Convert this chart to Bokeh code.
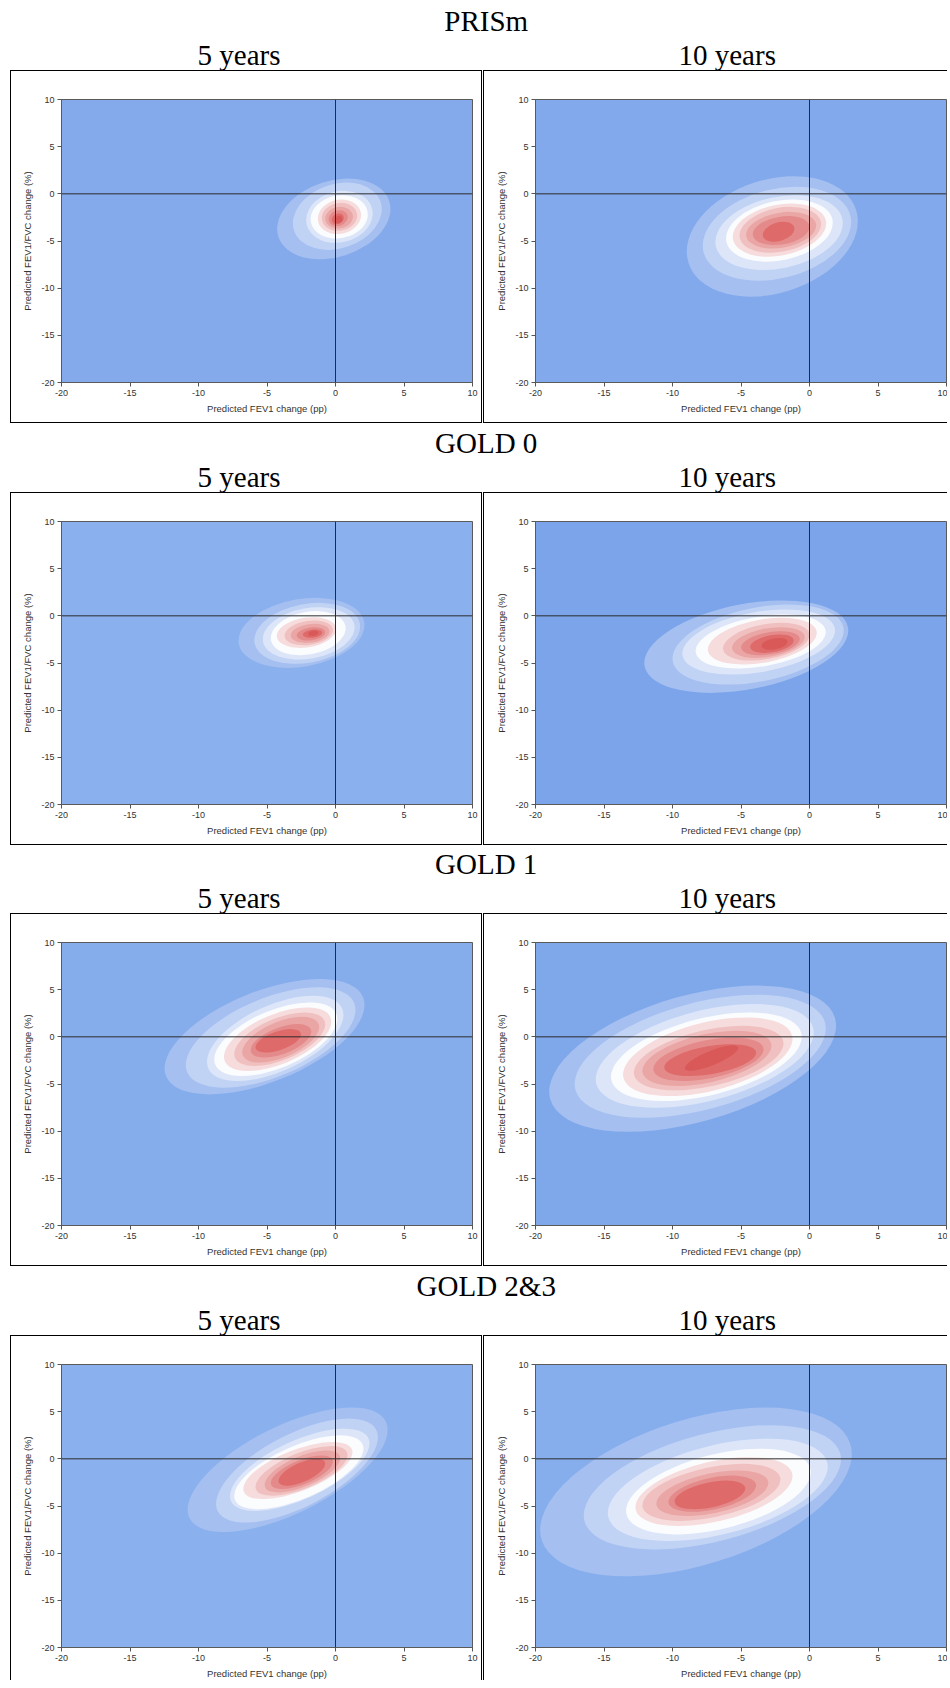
import math
from bokeh.plotting import figure
from bokeh.layouts import column, row
from bokeh.models import Range1d, FixedTicker, Span, Label, Spacer
from bokeh.embed import file_html
from bokeh.resources import INLINE

# ---------------- data ----------------
GROUPS = ["PRISm", "GOLD 0", "GOLD 1", "GOLD 2&3"]
HORIZONS = ["5 years", "10 years"]
X_TICKS = [-20, -15, -10, -5, 0, 5, 10]
Y_TICKS = [-20, -15, -10, -5, 0, 5, 10]
X_TICK_LABELS = ["-20", "-15", "-10", "-5", "0", "5", "10"]
Y_TICK_LABELS = ["-20", "-15", "-10", "-5", "0", "5", "10"]
X_LABEL = "Predicted FEV1 change (pp)"
Y_LABEL = "Predicted FEV1/FVC change (%)"

# density band colours, outermost -> innermost
LEVEL_COLORS = ["#A4BFF0", "#C1D3F5", "#DDE6F9", "#FBFCFE", "#F6DCDC",
                "#F0C0C0", "#EAA5A5", "#E48A8A", "#DE6A6A", "#D95858"]

# panel background (lowest density) colour, per group: [5 years, 10 years]
bg_prism = ["#85AAEB", "#82A9EC"]
bg_gold0 = ["#8AB0EE", "#7BA4EA"]
bg_gold1 = ["#85ACEB", "#7FA8EB"]
bg_gold23 = ["#8AB0EE", "#86ADEC"]

# contour bands, one row per level (outer -> inner):
# [x_min, x_max, y_min, y_max, x of the top-most point]
prism_5y = [
    [-4.26, 4.01, -6.95, 1.62, 0.90],
    [-3.11, 3.38, -5.95, 1.20, 0.80],
    [-2.14, 2.72, -5.19, 0.32, 0.60],
    [-1.82, 2.36, -4.73, -0.14, 0.50],
    [-1.29, 1.87, -4.27, -0.60, 0.45],
    [-1.00, 1.58, -3.92, -0.95, 0.40],
    [-0.75, 1.27, -3.67, -1.38, 0.35],
    [-0.51, 0.90, -3.42, -1.73, 0.30],
    [-0.27, 0.61, -3.21, -2.08, 0.25],
    [-0.05, 0.50, -3.10, -2.35, 0.25],
]
prism_10y = [
    [-8.96, 3.53, -10.90, 1.87, -1.15],
    [-7.79, 3.04, -9.21, 0.74, -1.02],
    [-6.87, 2.43, -8.08, -0.14, -1.06],
    [-6.09, 1.70, -7.20, -0.60, -1.22],
    [-5.60, 1.22, -6.67, -1.02, -1.34],
    [-5.11, 0.85, -6.25, -1.38, -1.39],
    [-4.63, 0.49, -5.79, -1.91, -1.43],
    [-4.14, 0.00, -5.43, -2.36, -1.55],
    [-3.41, -1.10, -5.08, -2.96, -1.91],
]
gold0_5y = [
    [-7.08, 2.12, -5.52, 1.91, -1.47],
    [-5.93, 1.80, -5.09, 1.38, -1.21],
    [-5.31, 1.40, -4.63, 0.92, -1.22],
    [-4.73, 0.75, -4.17, 0.50, -1.39],
    [-4.29, 0.05, -3.40, -0.14, -1.64],
    [-3.72, -0.18, -3.11, -0.50, -1.56],
    [-3.27, -0.44, -2.87, -0.85, -1.54],
    [-2.83, -0.75, -2.62, -1.20, -1.56],
    [-2.39, -0.97, -2.33, -1.45, -1.52],
    [-2.00, -1.25, -2.15, -1.55, -1.54],
]
gold0_10y = [
    [-12.06, 2.83, -8.17, 1.63, -2.01],
    [-10.00, 2.50, -7.29, 1.20, -1.56],
    [-9.28, 1.86, -6.23, 0.67, -1.76],
    [-8.31, 1.19, -5.59, 0.14, -1.90],
    [-7.42, 0.53, -5.16, -0.21, -2.05],
    [-6.32, 0.00, -4.74, -0.74, -2.05],
    [-5.66, -0.35, -4.46, -1.20, -2.08],
    [-4.99, -0.71, -4.17, -1.63, -2.10],
    [-4.33, -1.15, -3.93, -1.98, -2.18],
    [-3.50, -1.60, -3.60, -2.35, -2.22],
]
gold1_5y = [
    [-12.48, 2.12, -6.10, 6.13, -1.17],
    [-10.93, 1.46, -5.39, 5.25, -1.33],
    [-9.38, 0.58, -4.68, 4.36, -1.66],
    [-8.85, 0.13, -4.15, 3.65, -1.89],
    [-8.14, -0.31, -3.62, 3.12, -2.07],
    [-7.39, -0.75, -3.09, 2.59, -2.24],
    [-6.81, -1.19, -2.73, 2.13, -2.45],
    [-6.19, -1.77, -2.20, 1.35, -2.76],
    [-5.84, -2.52, -1.67, 0.82, -3.27],
]
gold1_10y = [
    [-19.00, 1.94, -10.07, 5.43, -3.82],
    [-17.14, 1.19, -8.58, 4.47, -3.85],
    [-15.60, 0.31, -7.52, 3.48, -4.07],
    [-14.49, -0.57, -6.81, 2.59, -4.40],
    [-13.61, -1.24, -6.28, 2.06, -4.64],
    [-12.82, -1.90, -5.67, 1.17, -4.90],
    [-12.20, -2.78, -5.21, 0.64, -5.37],
    [-11.40, -3.36, -4.68, -0.07, -5.57],
    [-10.60, -3.89, -4.15, -0.78, -5.73],
    [-9.10, -5.20, -3.60, -0.90, -5.60],
]
gold23_5y = [
    [-10.80, 3.81, -7.76, 5.44, 1.18],
    [-8.72, 3.10, -6.76, 4.27, 0.97],
    [-7.70, 2.48, -5.52, 3.20, 0.65],
    [-7.39, 2.04, -5.34, 2.49, 0.34],
    [-6.73, 1.24, -4.27, 1.78, -0.20],
    [-5.84, 0.88, -3.91, 1.35, -0.33],
    [-5.18, 0.35, -3.56, 0.89, -0.65],
    [-4.73, -0.18, -3.20, 0.36, -1.00],
    [-4.16, -0.75, -2.85, 0.00, -1.36],
]
gold23_10y = [
    [-19.66, 3.09, -12.46, 5.44, -3.17],
    [-16.48, 2.30, -9.61, 3.56, -2.87],
    [-14.72, 1.33, -8.72, 2.14, -3.08],
    [-13.39, 0.09, -8.01, 1.07, -3.62],
    [-12.70, -1.24, -7.12, 0.18, -4.39],
    [-12.20, -2.12, -6.58, -0.53, -4.89],
    [-11.18, -3.00, -6.05, -1.25, -5.25],
    [-10.30, -3.89, -5.62, -1.78, -5.65],
    [-9.85, -4.68, -5.34, -2.31, -6.10],
]

PANELS = [
    (prism_5y, prism_10y, bg_prism),
    (gold0_5y, gold0_10y, bg_gold0),
    (gold1_5y, gold1_10y, bg_gold1),
    (gold23_5y, gold23_10y, bg_gold23),
]

# ---------------- layout constants ----------------
FRAME_W = 411
FRAME_H = 283
X_RANGE = (-20, 10)
Y_RANGE = (-20, 10)
KX = FRAME_W / (X_RANGE[1] - X_RANGE[0])
KY = FRAME_H / (Y_RANGE[1] - Y_RANGE[0])

PAGE_W = 950
LEFT_PAD = 9
LEFT_W, RIGHT_W = 472, 464           # canvas widths (CSS borders added outside)
PANEL_H, LAST_PANEL_H = 353, 345     # canvas heights
HEAD_HEIGHTS = [70, 69, 68, 69]      # header band above each row of panels
TOP_BORDER = 28

SANS = "Liberation Sans"
SERIF = "Liberation Serif"
BORDER = "1px solid black"


def band_ellipses(levels):
    xs, ys, ws, hs, angs = [], [], [], [], []
    for xlo, xhi, ylo, yhi, xtop in levels:
        cx, cy = (xlo + xhi) / 2, (ylo + yhi) / 2
        W = (xhi - xlo) / 2 * KX
        H = (yhi - ylo) / 2 * KY
        rho = (xtop - cx) / ((xhi - xlo) / 2)
        rho = max(-0.95, min(0.95, rho))
        sxx, syy, sxy = W * W, H * H, rho * W * H
        m = (sxx + syy) / 2
        d = math.sqrt(((sxx - syy) / 2) ** 2 + sxy ** 2)
        a, b = math.sqrt(m + d), math.sqrt(max(m - d, 1e-6))
        theta = 0.5 * math.atan2(2 * sxy, sxx - syy)
        xs.append(cx); ys.append(cy)
        ws.append(2 * a / KX); hs.append(2 * b / KY); angs.append(theta)
    return xs, ys, ws, hs, angs


def header(group, height):
    h = figure(width=PAGE_W, height=height, title=None,
               x_range=Range1d(0, PAGE_W), y_range=Range1d(height, 0),
               x_axis_location=None, y_axis_location=None,
               toolbar_location=None, output_backend="svg", min_border=0)
    h.grid.visible = False
    h.outline_line_color = None
    h.background_fill_color = "white"
    title_mid = height - 49.5
    sub_mid = height - 15.7
    for x, y, t in ((485.7, title_mid, group),
                    (238.5, sub_mid, HORIZONS[0]),
                    (726.7, sub_mid, HORIZONS[1])):
        h.add_layout(Label(x=x, y=y, text=t, text_font=SERIF, text_font_size="29px",
                           text_align="center", text_baseline="middle",
                           text_color="black"))
    return h


def panel(levels, bg, width, height, border_left, styles):
    p = figure(width=width, height=height,
               x_range=Range1d(*X_RANGE), y_range=Range1d(*Y_RANGE),
               toolbar_location=None, output_backend="svg",
               min_border_left=border_left, min_border_right=width - border_left - FRAME_W,
               min_border_top=TOP_BORDER, min_border_bottom=height - TOP_BORDER - FRAME_H,
               styles=styles)
    p.background_fill_color = bg
    p.border_fill_color = "white"
    p.outline_line_color = "#5A5A5A"
    p.grid.visible = False

    xs, ys, ws, hs, angs = band_ellipses(levels)
    p.ellipse(x=xs, y=ys, width=ws, height=hs, angle=angs,
              fill_color=LEVEL_COLORS[:len(levels)], line_color=None)

    p.add_layout(Span(location=0, dimension="height", line_color="#2B2B2B", line_width=1))
    p.add_layout(Span(location=0, dimension="width", line_color="#2B2B2B", line_width=1))

    for ax, ticks, labels in ((p.xaxis[0], X_TICKS, X_TICK_LABELS),
                              (p.yaxis[0], Y_TICKS, Y_TICK_LABELS)):
        ax.ticker = FixedTicker(ticks=ticks, minor_ticks=[])
        ax.major_label_overrides = {t: s for t, s in zip(ticks, labels)}
        ax.major_label_text_font = SANS
        ax.major_label_text_font_size = "9px"
        ax.major_label_text_color = "#333333"
        ax.axis_label_text_font = SANS
        ax.axis_label_text_font_size = "9.5px"
        ax.axis_label_text_font_style = "normal"
        ax.axis_label_text_color = "#333333"
        ax.major_tick_in = 0
        ax.major_tick_out = 4
        ax.minor_tick_in = 0
        ax.minor_tick_out = 0
        ax.major_tick_line_color = "#555555"
        ax.axis_line_color = "#5A5A5A"
        ax.major_label_standoff = 3
    p.xaxis.axis_label = X_LABEL
    p.yaxis.axis_label = Y_LABEL
    p.xaxis.axis_label_standoff = 4
    p.yaxis.axis_label_standoff = 5
    return p


items = []
for gi, group in enumerate(GROUPS):
    lv5, lv10, bgs = PANELS[gi]
    last = gi == len(GROUPS) - 1
    items.append(header(group, HEAD_HEIGHTS[gi]))
    ph = LAST_PANEL_H if last else PANEL_H
    s5 = {"border-left": BORDER, "border-right": BORDER, "border-top": BORDER}
    s10 = {"border-left": BORDER, "border-top": BORDER}
    if not last:
        s5["border-bottom"] = BORDER
        s10["border-bottom"] = BORDER
    p5 = panel(lv5, bgs[0], LEFT_W, ph, 50, s5)
    p10 = panel(lv10, bgs[1], RIGHT_W, ph, 51, s10)
    items.append(row(Spacer(width=LEFT_PAD, height=10), p5, p10, spacing=1))

layout = column(*items)
open("out.html", "w").write(file_html(layout, INLINE))
